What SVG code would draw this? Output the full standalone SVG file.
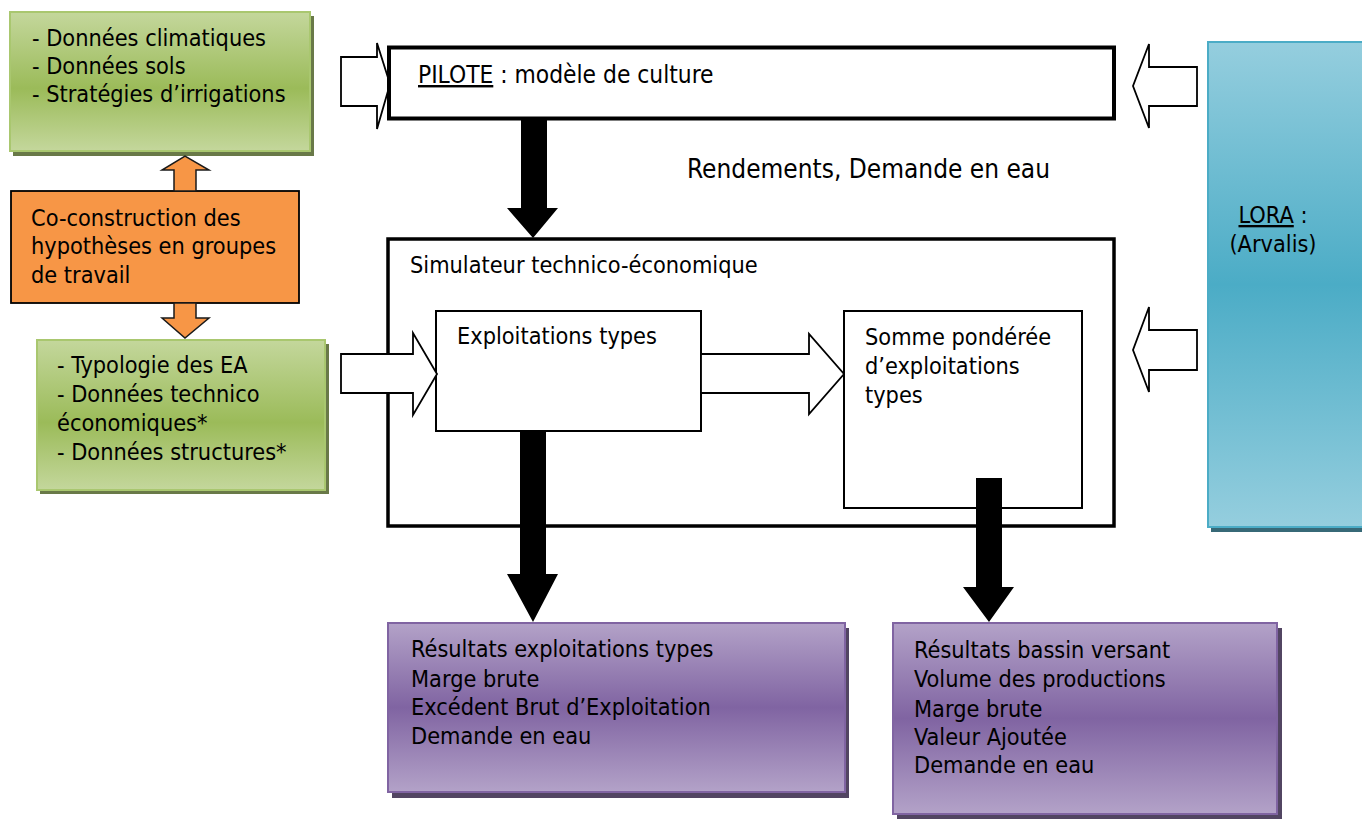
<svg xmlns="http://www.w3.org/2000/svg" width="1362" height="819" viewBox="0 0 1362 819">
  <defs>
    <linearGradient id="gGreen" x1="0" y1="0" x2="0" y2="1">
      <stop offset="0" stop-color="#c4d79c"/>
      <stop offset="0.55" stop-color="#9bbb59"/>
      <stop offset="1" stop-color="#c4d79c"/>
    </linearGradient>
    <linearGradient id="gPurple" x1="0" y1="0" x2="0" y2="1">
      <stop offset="0" stop-color="#b3a2c8"/>
      <stop offset="0.5" stop-color="#8064a2"/>
      <stop offset="1" stop-color="#b3a2c8"/>
    </linearGradient>
    <linearGradient id="gBlue" x1="0" y1="0" x2="0" y2="1">
      <stop offset="0" stop-color="#95cede"/>
      <stop offset="0.5" stop-color="#4bacc6"/>
      <stop offset="1" stop-color="#95cede"/>
    </linearGradient>
  </defs>
  <style>
    text { font-family: 'DejaVu Sans Condensed', 'Liberation Sans', sans-serif; font-size: 23.3px; fill: #000; }
    .big { font-size: 26px; }
    .pil { font-size: 24.3px; }
    .green { fill: url(#gGreen); stroke: #a9c76f; stroke-width: 2; }
    .greenSh { fill: #4f6228; opacity: 0.85; }
    .purple { fill: url(#gPurple); stroke: #8064a2; stroke-width: 2; }
    .purpleSh { fill: #3f3151; opacity: 0.9; }
    .blue { fill: url(#gBlue); stroke: #4bacc6; stroke-width: 2; }
    .blueSh { fill: #215968; opacity: 0.9; }
    .box { fill: #fff; stroke: #000; }
    .white-arrow { fill: #fff; stroke: #000; stroke-width: 1.8; stroke-linejoin: miter; }
    .black-arrow { fill: #000; stroke: none; }
    .orange-arrow { fill: #f79646; stroke: #1a1a1a; stroke-width: 1.5; }
  </style>

  <!-- connector behind the PILOTE box -->
  <g id="connectors-back">
    <polygon class="white-arrow" points="341,57 377,57 377,43 390,84 377,129 377,106 341,106"/>
  </g>

  <g id="node-donnees-climat">
    <rect class="greenSh" x="13" y="16" width="301" height="140"/>
    <rect class="green" x="10" y="12" width="300" height="139"/>
    <text x="32" y="46">- Données climatiques</text>
    <text x="32" y="74">- Données sols</text>
    <text x="32" y="102">- Stratégies d’irrigations</text>
  </g>

  <g id="node-coconstruction">
    <rect x="11" y="191" width="288" height="112" fill="#f79646" stroke="#000" stroke-width="1.8"/>
    <text x="31" y="226">Co-construction des</text>
    <text x="31" y="254">hypothèses en groupes</text>
    <text x="31" y="283">de travail</text>
  </g>

  <g id="node-typologie">
    <rect class="greenSh" x="40" y="344" width="289" height="150"/>
    <rect class="green" x="37" y="340" width="288" height="150"/>
    <text x="57" y="373">- Typologie des EA</text>
    <text x="57" y="402">- Données technico</text>
    <text x="57" y="431">économiques*</text>
    <text x="57" y="460">- Données structures*</text>
  </g>

  <g id="node-pilote">
    <rect class="box" x="389" y="47.5" width="725" height="71" stroke-width="4"/>
    <text class="pil" x="418" y="83"><tspan text-decoration="underline">PILOTE</tspan> : modèle de culture</text>
  </g>

  <g id="label-rendements">
    <text class="big" x="687" y="178">Rendements, Demande en eau</text>
  </g>

  <g id="node-simulateur">
    <rect class="box" x="388" y="239" width="726" height="287" stroke-width="3.5"/>
    <text x="410" y="273">Simulateur technico-économique</text>
  </g>

  <g id="node-exploitations">
    <rect class="box" x="436" y="311" width="265" height="120" stroke-width="2"/>
    <text x="457" y="344">Exploitations types</text>
  </g>

  <g id="node-somme">
    <rect class="box" x="844" y="311" width="238" height="197" stroke-width="2"/>
    <text x="865" y="345">Somme pondérée</text>
    <text x="865" y="374">d’exploitations</text>
    <text x="865" y="403">types</text>
  </g>

  <g id="node-lora">
    <rect class="blueSh" x="1211" y="46" width="160" height="486"/>
    <rect class="blue" x="1208" y="42" width="170" height="485"/>
    <text x="1273" y="223" text-anchor="middle"><tspan text-decoration="underline">LORA</tspan> :</text>
    <text x="1273" y="252" text-anchor="middle">(Arvalis)</text>
  </g>

  <g id="node-resultats-exploitations">
    <rect class="purpleSh" x="392" y="628" width="457" height="170"/>
    <rect class="purple" x="388" y="623" width="457" height="169"/>
    <text x="411" y="657">Résultats exploitations types</text>
    <text x="411" y="687">Marge brute</text>
    <text x="411" y="715">Excédent Brut d’Exploitation</text>
    <text x="411" y="744">Demande en eau</text>
  </g>

  <g id="node-resultats-bassin">
    <rect class="purpleSh" x="897" y="628" width="385" height="191"/>
    <rect class="purple" x="893" y="623" width="384" height="191"/>
    <text x="914" y="658">Résultats bassin versant</text>
    <text x="914" y="687">Volume des productions</text>
    <text x="914" y="717">Marge brute</text>
    <text x="914" y="745">Valeur Ajoutée</text>
    <text x="914" y="773">Demande en eau</text>
  </g>

  <g id="connectors">
    <polygon class="orange-arrow" points="174,191 174,170 162,170 185,156 209,170 196,170 196,191"/>
    <polygon class="orange-arrow" points="174,303 174,318 162,318 185,338 209,318 196,318 196,303"/>
    <polygon class="white-arrow" points="341,354 413,354 413,333 437,374 413,415 413,393 341,393"/>
    <polygon class="white-arrow" points="701,354 809,354 809,334 844,374 809,414 809,393 701,393"/>
    <polygon class="white-arrow" points="1197,67 1149,67 1149,44 1133,86 1149,128 1149,106 1197,106"/>
    <polygon class="white-arrow" points="1197,330 1149,330 1149,307 1133,350 1149,392 1149,370 1197,370"/>
    <polygon class="black-arrow" points="521,120 547,120 547,208 558,208 533,238 507,208 521,208"/>
    <polygon class="black-arrow" points="520,431 546,431 546,574 558,574 533,622 507,574 520,574"/>
    <polygon class="black-arrow" points="976,478 1002,478 1002,587 1014,587 989,622 963,587 976,587"/>
  </g>
</svg>
